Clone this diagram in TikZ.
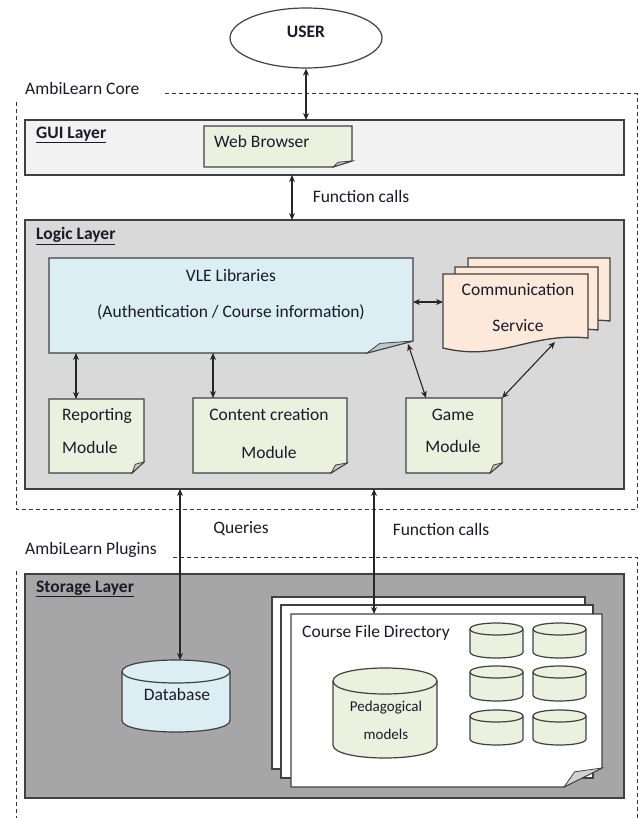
\documentclass[tikz,border=0pt]{standalone}
\usepackage{fontspec}
\setmainfont{Carlito}
\usetikzlibrary{arrows.meta,shapes.geometric}
\definecolor{guifill}{HTML}{F2F2F2}
\definecolor{logicfill}{HTML}{D9D9D9}
\definecolor{storefill}{HTML}{A6A6A6}
\definecolor{notegreen}{HTML}{EBF1DE}
\definecolor{noteblue}{HTML}{DBEEF4}
\definecolor{notepeach}{HTML}{FDE9D9}
\definecolor{linegray}{HTML}{404040}
\definecolor{txt}{HTML}{1A1A2A}
\newcommand\fsz{\fontsize{17.5}{20}\selectfont}
\newcommand\fsm{\fontsize{15}{18}\selectfont}
% note with folded corner: name, x1,y1,x2,y2, foldx, foldy, fill
\newcommand\notebox[8]{%
 \node[hole,minimum width={#4-#2},minimum height={#5-#3}] (#1) at ({(#2+#4)/2},{(#3+#5)/2}) {};
 \filldraw[noteline,fill=#8] (#2,#3) -- (#4,#3) -- (#4,{#5-#7}) -- ({#4-#6},#5) -- (#2,#5) -- cycle;
 \filldraw[noteline,line width=0.8pt,fill=#8!65!gray] (#4,{#5-#7}) -- ({#4-0.72*#6},{#5-0.8*#7}) -- ({#4-#6},#5) -- cycle;
}
% document with wavy bottom: x1,y1,x2,yb,fill
\newcommand\docshape[5]{%
 \filldraw[noteline,fill=#5] (#1,#2) -- (#3,#2) -- (#3,#4) .. controls ({#3-0.4*(#3-#1)},{#4-6}) and ({#1+0.4*(#3-#1)},{#4+24}) .. (#1,{#4+10}) -- cycle;
}
% cylinder: x1,x2,ytop-centre,ybottom-centre,ry,fill
\newcommand\cyl[6]{%
 \filldraw[noteline,line width=1.2pt,fill=#6] (#1,#3) -- (#1,#4) .. controls (#1,{#4+1.333*#5}) and (#2,{#4+1.333*#5}) .. (#2,#4) -- (#2,#3) .. controls (#2,{#3-1.333*#5}) and (#1,{#3-1.333*#5}) .. (#1,#3) -- cycle;
 \draw[noteline,line width=1.2pt] (#1,#3) .. controls (#1,{#3+1.333*#5}) and (#2,{#3+1.333*#5}) .. (#2,#3);
}
\begin{document}
\begin{tikzpicture}[x=1pt,y=-1pt,
 layer/.style={draw=linegray,line width=1.4pt,inner sep=0,outer sep=0},
 hole/.style={inner sep=0,outer sep=0,draw=none},
 noteline/.style={draw=linegray,line width=1.3pt,line join=miter},
 lbl/.style={font=\fsz,text=txt,inner sep=0},
 head/.style={font=\fsz\bfseries,text=txt,inner sep=0,anchor=west},
 conn/.style={draw=black!85,line width=1.1pt,{Stealth[length=7pt,width=6pt]}-{Stealth[length=7pt,width=6pt]}},
 frame/.style={draw=black!80,line width=1pt,dash pattern=on 4pt off 3pt},
]
\useasboundingbox[fill=white] (0,0) rectangle (643,818);

% USER
\node[ellipse,draw=linegray,line width=1.2pt,fill=white,minimum width=152,minimum height=60,inner sep=0] (user) at (306,38) {};
\node[lbl,font=\fsz\bfseries] (usert) at (306,32) {USER};

% dashed frames
\draw[frame] (165,94) -- (637,94) -- (637,509) -- (16,509) -- (16,102);
\node[lbl,anchor=west] (corel) at (25,88) {AmbiLearn Core};
\draw[frame] (173,557) -- (637,557) -- (637,818);
\draw[frame] (16,571) -- (16,818);
\node[lbl,anchor=west] (plugl) at (25,550) {AmbiLearn Plugins};

% GUI layer
\node[layer,fill=guifill,minimum width=599,minimum height=55] (gui) at (324.5,147.5) {};
\node[head] (guil) at (36,135) {\underline{GUI Layer}};
\notebox{web}{204}{126}{352}{167}{19}{6}{notegreen}
\node[lbl,anchor=west] (webt) at (214,141) {Web Browser};

% Logic layer
\node[layer,fill=logicfill,minimum width=599,minimum height=269] (logic) at (324.5,354.5) {};
\node[head] (logicl) at (36,236) {\underline{Logic Layer}};
\notebox{vle}{49}{258}{413}{353}{46}{12}{noteblue}
\node[lbl] (vlet1) at (231,275) {VLE Libraries};
\node[lbl] (vlet2) at (231,312) {(Authentication / Course information)};
\docshape{468}{258}{610}{321}{notepeach}
\docshape{455}{267}{598}{330}{notepeach}
\docshape{443}{274}{588}{338}{notepeach}
\node[hole,minimum width=145,minimum height=74] (comm) at (515.5,311) {};
\node[lbl] (commt1) at (518,290) {Communication};
\node[lbl] (commt2) at (518,326) {Service};
\notebox{rep}{49}{399}{144}{473}{12}{11}{notegreen}
\node[lbl,anchor=west] (rept1) at (62,416) {Reporting};
\node[lbl,anchor=west] (rept2) at (62,447) {Module};
\notebox{content}{193}{398}{347}{473}{16}{10}{notegreen}
\node[lbl] (cont1) at (269,415) {Content creation};
\node[lbl] (cont2) at (269,452) {Module};
\notebox{game}{406}{398}{502}{473}{12}{10}{notegreen}
\node[lbl] (gamet1) at (453,415) {Game};
\node[lbl] (gamet2) at (453,446) {Module};

% Storage layer
\node[layer,fill=storefill,minimum width=599,minimum height=224] (store) at (324.5,686) {};
\node[head] (storel) at (36,589) {\underline{Storage Layer}};
\filldraw[noteline,fill=white] (272,597) rectangle (585,769);
\filldraw[noteline,fill=white] (281,605) rectangle (593,778);
\notebox{cfd}{291}{614}{602}{787}{38}{19}{white}
\node[lbl,anchor=west] (cfdt) at (302,633) {Course File Directory};
\node[hole,minimum width=104,minimum height=90] (ped) at (385,713) {};
\cyl{333}{437}{681}{745}{13}{notegreen}
\node[lbl,font=\fsm] (pedt1) at (386,708) {Pedagogical};
\node[lbl,font=\fsm] (pedt2) at (386,734) {models};
\foreach \xa/\xb in {470/523,533/586}{
  \foreach \ya/\yb in {623/658,666/701,710/745}{
    \cyl{\xa}{\xb}{\ya+6}{\yb-6}{6}{notegreen}
  }
}
\node[hole,minimum width=108,minimum height=72] (db) at (176,696) {};
\cyl{122}{230}{671.5}{720.5}{11.5}{noteblue}
\node[lbl] (dbt) at (177,694) {Database};

% connectors
\draw[conn] (user.south) -- (user.south |- gui.north);
\coordinate (fa) at (292,0);
\draw[conn] (fa |- gui.south) -- (fa |- logic.north);
\node[lbl] (fcl1) at (361,196) {Function calls};
\coordinate (va) at ([yshift=3.5pt]vle.east);
\draw[conn] (va) -- (va -| comm.west);
\coordinate (ra) at (76,0);
\draw[conn] (ra |- vle.south) -- (ra |- rep.north);
\coordinate (ca) at (213,0);
\draw[conn] (ca |- vle.south) -- (ca |- content.north);
\draw[conn] ([shift={(-5,-9)}]vle.south east) -- ([xshift=20pt]game.north west);
\draw[conn] (game.north east) -- ([shift={(-33,-6)}]comm.south east);
\coordinate (qa) at (180,0);
\draw[conn] (qa |- logic.south) -- (qa |- db.north);
\coordinate (fb) at (374,0);
\draw[conn] (fb |- logic.south) -- (fb |- cfd.north);
\node[lbl] (ql) at (241,529) {Queries};
\node[lbl] (fcl2) at (441,529) {Function calls};
\end{tikzpicture}
\end{document}
